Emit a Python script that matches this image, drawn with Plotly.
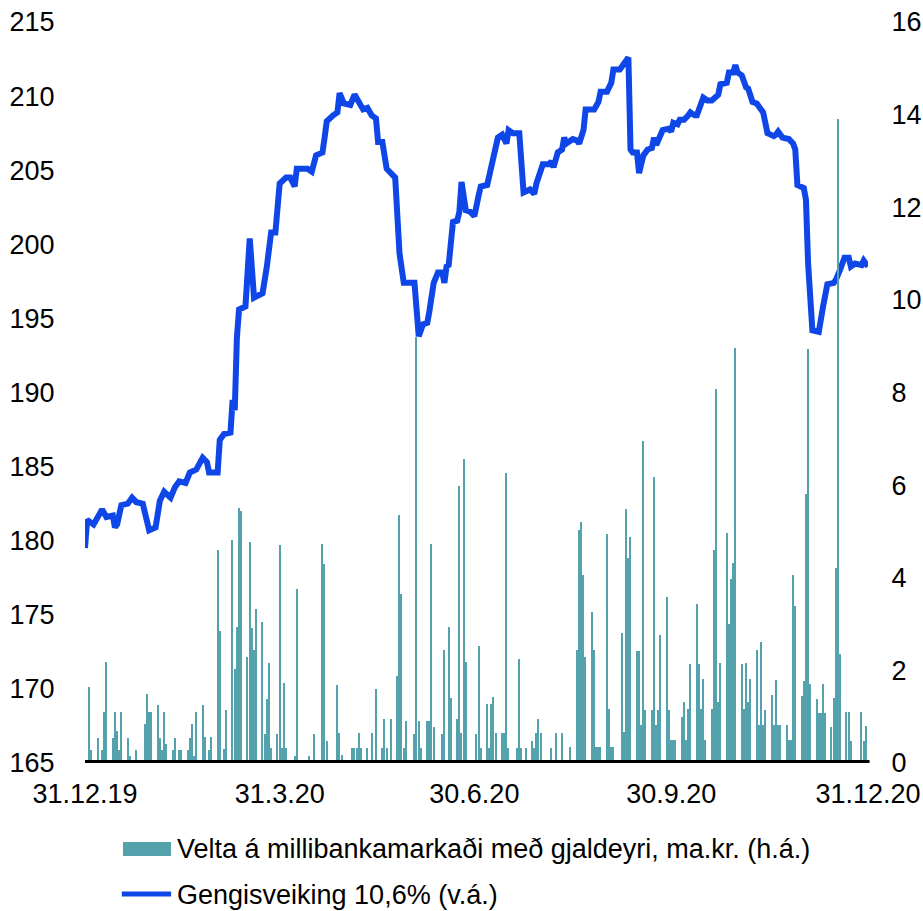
import plotly.graph_objects as go

# ---- data ----
line_dates = [
    "2019-12-31", "2020-01-01", "2020-01-04", "2020-01-06", "2020-01-08", "2020-01-10",
    "2020-01-13", "2020-01-14", "2020-01-15", "2020-01-17", "2020-01-20", "2020-01-22",
    "2020-01-24", "2020-01-27", "2020-01-29", "2020-01-30", "2020-02-02", "2020-02-04",
    "2020-02-06", "2020-02-09", "2020-02-11", "2020-02-13", "2020-02-16", "2020-02-18",
    "2020-02-21", "2020-02-24", "2020-02-26", "2020-02-27", "2020-03-02", "2020-03-03",
    "2020-03-05", "2020-03-08", "2020-03-09", "2020-03-10", "2020-03-11", "2020-03-12",
    "2020-03-15", "2020-03-17", "2020-03-19", "2020-03-23", "2020-03-25", "2020-03-27",
    "2020-03-29", "2020-03-31", "2020-04-03", "2020-04-05", "2020-04-07", "2020-04-08",
    "2020-04-13", "2020-04-15", "2020-04-17", "2020-04-20", "2020-04-21", "2020-04-22",
    "2020-04-25", "2020-04-27", "2020-04-28", "2020-04-30", "2020-05-03", "2020-05-05",
    "2020-05-09", "2020-05-11", "2020-05-13", "2020-05-15", "2020-05-16", "2020-05-18",
    "2020-05-20", "2020-05-23", "2020-05-24", "2020-05-26", "2020-05-28", "2020-06-02",
    "2020-06-04", "2020-06-06", "2020-06-08", "2020-06-09", "2020-06-11", "2020-06-13",
    "2020-06-15", "2020-06-16", "2020-06-17", "2020-06-18", "2020-06-20", "2020-06-22",
    "2020-06-23", "2020-06-24", "2020-06-26", "2020-06-28", "2020-06-30", "2020-07-02",
    "2020-07-03", "2020-07-06", "2020-07-07", "2020-07-09", "2020-07-11", "2020-07-13",
    "2020-07-15", "2020-07-16", "2020-07-18", "2020-07-21", "2020-07-22", "2020-07-23",
    "2020-07-26", "2020-07-28", "2020-07-29", "2020-08-01", "2020-08-04", "2020-08-05",
    "2020-08-06", "2020-08-08", "2020-08-10", "2020-08-11", "2020-08-12", "2020-08-15",
    "2020-08-17", "2020-08-18", "2020-08-20", "2020-08-21", "2020-08-25", "2020-08-27",
    "2020-08-28", "2020-08-31", "2020-09-02", "2020-09-03", "2020-09-06", "2020-09-08",
    "2020-09-10", "2020-09-11", "2020-09-12", "2020-09-14", "2020-09-15", "2020-09-17",
    "2020-09-19", "2020-09-21", "2020-09-22", "2020-09-23", "2020-09-26", "2020-09-29",
    "2020-09-30", "2020-10-01", "2020-10-03", "2020-10-04", "2020-10-06", "2020-10-08",
    "2020-10-09", "2020-10-11", "2020-10-12", "2020-10-15", "2020-10-17", "2020-10-19",
    "2020-10-22", "2020-10-23", "2020-10-26", "2020-10-27", "2020-10-29", "2020-10-30",
    "2020-10-31", "2020-11-02", "2020-11-04", "2020-11-05", "2020-11-07", "2020-11-09",
    "2020-11-11", "2020-11-12", "2020-11-14", "2020-11-17", "2020-11-18", "2020-11-19",
    "2020-11-21", "2020-11-24", "2020-11-26", "2020-11-27", "2020-11-28", "2020-12-01",
    "2020-12-02", "2020-12-03", "2020-12-05", "2020-12-08", "2020-12-10", "2020-12-12",
    "2020-12-15", "2020-12-16", "2020-12-18", "2020-12-20", "2020-12-22", "2020-12-23",
    "2020-12-25", "2020-12-28", "2020-12-29", "2020-12-31",
]
line_values = [
    179.5, 181.4, 181.1, 181.7, 182.1, 181.6,
    181.7, 180.9, 181.1, 182.4, 182.5, 182.9,
    182.6, 182.5, 181.2, 180.7, 180.9, 182.7,
    183.3, 182.9, 183.6, 184.0, 183.9, 184.6,
    184.8, 185.6, 185.3, 184.6, 184.6, 186.8,
    187.2, 187.3, 189.5, 188.8, 193.7, 195.6,
    195.8, 200.4, 196.4, 196.7, 198.5, 200.8,
    200.8, 204.1, 204.5, 204.5, 203.9, 205.1,
    205.1, 204.9, 206.0, 206.2, 207.2, 208.3,
    208.7, 208.9, 210.2, 209.5, 209.4, 210.1,
    209.1, 209.2, 208.7, 208.5, 206.9, 206.9,
    205.1, 204.7, 204.5, 199.4, 197.4, 197.4,
    193.8, 194.6, 194.7, 195.5, 197.4, 198.1,
    198.1, 197.4, 198.5, 198.6, 201.5, 201.6,
    202.2, 204.2, 202.3, 202.2, 201.9, 203.3,
    203.9, 204.0, 204.7, 205.9, 207.2, 207.4,
    206.8, 207.7, 207.5, 207.5, 204.8, 203.5,
    203.7, 203.4, 204.1, 205.4, 205.4, 205.6,
    205.2, 206.2, 206.4, 207.2, 206.8, 207.1,
    207.0, 206.8, 207.7, 209.1, 209.1, 209.6,
    210.3, 210.3, 210.9, 211.8, 211.8, 212.2,
    212.6, 206.4, 206.2, 206.2, 204.8, 206.0,
    206.4, 206.5, 207.2, 206.7, 207.7, 207.8,
    207.6, 208.2, 208.1, 208.4, 208.4, 208.7,
    208.9, 208.7, 208.7, 209.9, 209.7, 209.7,
    210.1, 210.8, 210.9, 211.6, 211.6, 212.1,
    211.6, 211.4, 210.6, 210.5, 209.6, 209.5,
    209.1, 208.9, 207.5, 207.3, 207.4, 207.6,
    207.2, 207.1, 206.8, 206.4, 204.0, 203.8,
    203.0, 198.7, 194.2, 194.1, 195.8, 197.3,
    197.4, 197.6, 198.3, 199.1, 199.1, 198.5,
    198.7, 198.6, 198.9, 198.5,
]

bar_dates = [
    "2020-01-02", "2020-01-03", "2020-01-06", "2020-01-08", "2020-01-09", "2020-01-10",
    "2020-01-13", "2020-01-14", "2020-01-15", "2020-01-16", "2020-01-17", "2020-01-20",
    "2020-01-21", "2020-01-24", "2020-01-28", "2020-01-29", "2020-01-30", "2020-01-31",
    "2020-02-03", "2020-02-04", "2020-02-05", "2020-02-06", "2020-02-07", "2020-02-10",
    "2020-02-11", "2020-02-13", "2020-02-14", "2020-02-17", "2020-02-18", "2020-02-19",
    "2020-02-20", "2020-02-21", "2020-02-24", "2020-02-25", "2020-02-27", "2020-02-28",
    "2020-03-02", "2020-03-03", "2020-03-05", "2020-03-06", "2020-03-09", "2020-03-10",
    "2020-03-11", "2020-03-12", "2020-03-13", "2020-03-16", "2020-03-17", "2020-03-18",
    "2020-03-19", "2020-03-20", "2020-03-23", "2020-03-24", "2020-03-25", "2020-03-26",
    "2020-03-27", "2020-03-30", "2020-03-31", "2020-04-01", "2020-04-02", "2020-04-03",
    "2020-04-07", "2020-04-08", "2020-04-14", "2020-04-16", "2020-04-20", "2020-04-21",
    "2020-04-22", "2020-04-27", "2020-04-28", "2020-04-29", "2020-05-04", "2020-05-05",
    "2020-05-06", "2020-05-07", "2020-05-08", "2020-05-11", "2020-05-13", "2020-05-15",
    "2020-05-18", "2020-05-19", "2020-05-20", "2020-05-22", "2020-05-25", "2020-05-26",
    "2020-05-27", "2020-05-28", "2020-05-29", "2020-06-02", "2020-06-03", "2020-06-04",
    "2020-06-05", "2020-06-08", "2020-06-09", "2020-06-10", "2020-06-11", "2020-06-15",
    "2020-06-16", "2020-06-18", "2020-06-19", "2020-06-22", "2020-06-23", "2020-06-24",
    "2020-06-25", "2020-06-26", "2020-07-01", "2020-07-02", "2020-07-03", "2020-07-06",
    "2020-07-07", "2020-07-08", "2020-07-09", "2020-07-10", "2020-07-13", "2020-07-14",
    "2020-07-15", "2020-07-16", "2020-07-20", "2020-07-21", "2020-07-22", "2020-07-24",
    "2020-07-27", "2020-07-28", "2020-07-29", "2020-07-30", "2020-07-31", "2020-08-05",
    "2020-08-07", "2020-08-10", "2020-08-14", "2020-08-17", "2020-08-18", "2020-08-19",
    "2020-08-20", "2020-08-21", "2020-08-24", "2020-08-25", "2020-08-26", "2020-08-27",
    "2020-08-28", "2020-08-31", "2020-09-01", "2020-09-02", "2020-09-03", "2020-09-07",
    "2020-09-08", "2020-09-09", "2020-09-10", "2020-09-11", "2020-09-14", "2020-09-15",
    "2020-09-16", "2020-09-17", "2020-09-18", "2020-09-21", "2020-09-22", "2020-09-23",
    "2020-09-24", "2020-09-25", "2020-09-28", "2020-09-29", "2020-09-30", "2020-10-01",
    "2020-10-02", "2020-10-05", "2020-10-06", "2020-10-07", "2020-10-08", "2020-10-09",
    "2020-10-12", "2020-10-13", "2020-10-14", "2020-10-15", "2020-10-16", "2020-10-19",
    "2020-10-20", "2020-10-21", "2020-10-22", "2020-10-23", "2020-10-26", "2020-10-27",
    "2020-10-28", "2020-10-29", "2020-10-30", "2020-11-02", "2020-11-03", "2020-11-04",
    "2020-11-05", "2020-11-06", "2020-11-09", "2020-11-10", "2020-11-11", "2020-11-12",
    "2020-11-13", "2020-11-16", "2020-11-17", "2020-11-18", "2020-11-19", "2020-11-20",
    "2020-11-23", "2020-11-24", "2020-11-25", "2020-11-26", "2020-11-27", "2020-11-30",
    "2020-12-01", "2020-12-02", "2020-12-03", "2020-12-04", "2020-12-07", "2020-12-08",
    "2020-12-09", "2020-12-10", "2020-12-11", "2020-12-14", "2020-12-15", "2020-12-16",
    "2020-12-17", "2020-12-18", "2020-12-21", "2020-12-22", "2020-12-23", "2020-12-28",
    "2020-12-29", "2020-12-30",
]
bar_values = [
    1.65, 0.28, 0.55, 0.28, 1.10, 2.19,
    0.55, 1.10, 0.70, 0.28, 1.10, 0.55,
    0.15, 0.28, 0.84, 1.50, 1.10, 1.10,
    1.25, 0.55, 0.28, 1.10, 0.42, 0.28,
    0.55, 0.28, 0.28, 0.28, 0.55, 0.84,
    0.15, 1.10, 1.25, 0.57, 0.28, 0.57,
    4.60, 2.86, 0.30, 1.14, 4.82, 2.04,
    2.93, 5.50, 5.44, 2.28, 4.78, 2.91,
    2.44, 3.33, 3.04, 0.62, 1.38, 2.15,
    0.32, 0.63, 4.70, 0.32, 1.72, 0.32,
    0.16, 3.75, 0.16, 0.63, 4.73, 4.29,
    0.48, 1.68, 0.64, 0.17, 0.32, 0.32,
    0.32, 0.64, 0.32, 0.32, 0.64, 1.59,
    0.32, 0.94, 0.32, 0.94, 1.88, 5.36,
    3.64, 0.32, 0.91, 0.62, 9.20, 0.91,
    0.32, 0.91, 0.91, 4.72, 0.77, 0.63,
    2.45, 2.94, 1.40, 0.94, 5.98, 0.64,
    6.56, 2.19, 0.63, 2.52, 0.32, 1.27,
    0.32, 1.27, 1.43, 0.64, 0.64, 0.64,
    6.27, 0.32, 0.32, 2.24, 0.32, 0.32,
    0.48, 0.32, 0.64, 0.96, 0.64, 0.32,
    0.64, 0.64, 0.34, 2.43, 5.03, 5.20,
    4.07, 2.28, 3.27, 2.45, 0.34, 0.34,
    0.34, 4.95, 1.16, 0.34, 0.34, 2.81,
    0.68, 5.48, 4.42, 4.87, 2.42, 2.42,
    0.82, 6.96, 1.14, 1.14, 6.17, 0.82,
    1.14, 2.77, 3.58, 1.14, 0.50, 0.50,
    0.50, 0.99, 1.32, 0.50, 1.16, 2.14,
    3.43, 2.14, 1.16, 1.81, 0.50, 1.16,
    4.61, 8.07, 1.32, 2.17, 4.96, 3.00,
    3.98, 4.31, 8.96, 2.14, 1.16, 2.15,
    1.32, 1.81, 2.45, 0.82, 2.61, 0.82,
    1.14, 1.47, 0.82, 1.79, 0.82, 0.82,
    0.82, 0.50, 0.50, 4.05, 3.38, 1.45,
    1.76, 5.81, 8.93, 1.70, 1.38, 1.09,
    1.09, 1.71, 1.09, 0.78, 1.41, 4.20,
    13.90, 2.35, 1.11, 1.11, 0.48, 1.11,
    0.48, 0.80,
]

tick_dates = ["2019-12-31", "2020-03-31", "2020-06-30", "2020-09-30", "2020-12-31"]
tick_labels = ["31.12.19", "31.3.20", "30.6.20", "30.9.20", "31.12.20"]

bar_name = "Velta á millibankamarkaði með gjaldeyri, ma.kr. (h.á.)"
line_name = "Gengisveiking 10,6% (v.á.)"

BAR_COLOR = "#54A2AC"
LINE_COLOR = "#0F46E8"
FONT = "Liberation Sans, Arial, sans-serif"
FS = 27

fig = go.Figure()
fig.add_trace(go.Scatter(
    x=line_dates, y=line_values, name=line_name, mode="lines",
    line=dict(color=LINE_COLOR, width=6), yaxis="y", showlegend=False,
))
fig.add_trace(go.Bar(
    x=bar_dates, y=bar_values, name=bar_name, yaxis="y2",
    marker=dict(color=BAR_COLOR, line=dict(width=0)),
    width=0.6 * 86400000, showlegend=False,
))

# baseline
fig.add_shape(type="line", xref="paper", yref="y", x0=0, x1=1.002, y0=165, y1=165,
              line=dict(color="black", width=6), layer="above")

# custom legend
fig.add_shape(type="rect", xref="paper", yref="paper",
              x0=0.0485, x1=0.1098, y0=-0.1255, y1=-0.1066,
              line=dict(width=0), fillcolor=BAR_COLOR)
fig.add_shape(type="line", xref="paper", yref="paper",
              x0=0.047, x1=0.110, y0=-0.1768, y1=-0.1768,
              line=dict(color=LINE_COLOR, width=5))
fig.add_annotation(xref="paper", yref="paper", x=0.1150, y=-0.1165, text=bar_name,
                   showarrow=False, xanchor="left", yanchor="middle",
                   font=dict(family=FONT, size=FS, color="black"))
fig.add_annotation(xref="paper", yref="paper", x=0.1150, y=-0.1785, text=line_name,
                   showarrow=False, xanchor="left", yanchor="middle",
                   font=dict(family=FONT, size=FS, color="black"))

fig.update_layout(
    template="none",
    width=923, height=911,
    margin=dict(l=85, r=55, t=22, b=148, autoexpand=False),
    paper_bgcolor="white", plot_bgcolor="white",
    font=dict(family=FONT, size=FS, color="black"),
    bargap=0,
    xaxis=dict(
        type="date", range=["2019-12-31", "2020-12-31"], automargin=False,
        tickmode="array", tickvals=tick_dates, ticktext=tick_labels,
        showgrid=False, zeroline=False, showline=False,
        ticks="outside", ticklen=7, tickcolor="rgba(0,0,0,0)",
        tickfont=dict(family=FONT, size=FS, color="black"),
    ),
    yaxis=dict(
        range=[165, 215], dtick=5, tick0=165, side="left", automargin=False,
        showgrid=False, zeroline=False, showline=False,
        ticks="outside", ticklen=24, tickcolor="rgba(0,0,0,0)",
        tickfont=dict(family=FONT, size=FS, color="black"),
    ),
    yaxis2=dict(
        range=[0, 16], dtick=2, tick0=0, side="right", overlaying="y", automargin=False,
        showgrid=False, zeroline=False, showline=False,
        ticks="outside", ticklen=17, tickcolor="rgba(0,0,0,0)",
        tickfont=dict(family=FONT, size=FS, color="black"),
    ),
)

fig.write_html(
    "out.html",
    include_plotlyjs=True,
    config={"displayModeBar": False},
    post_script="document.body.style.margin='0';document.body.style.overflow='hidden';",
)
